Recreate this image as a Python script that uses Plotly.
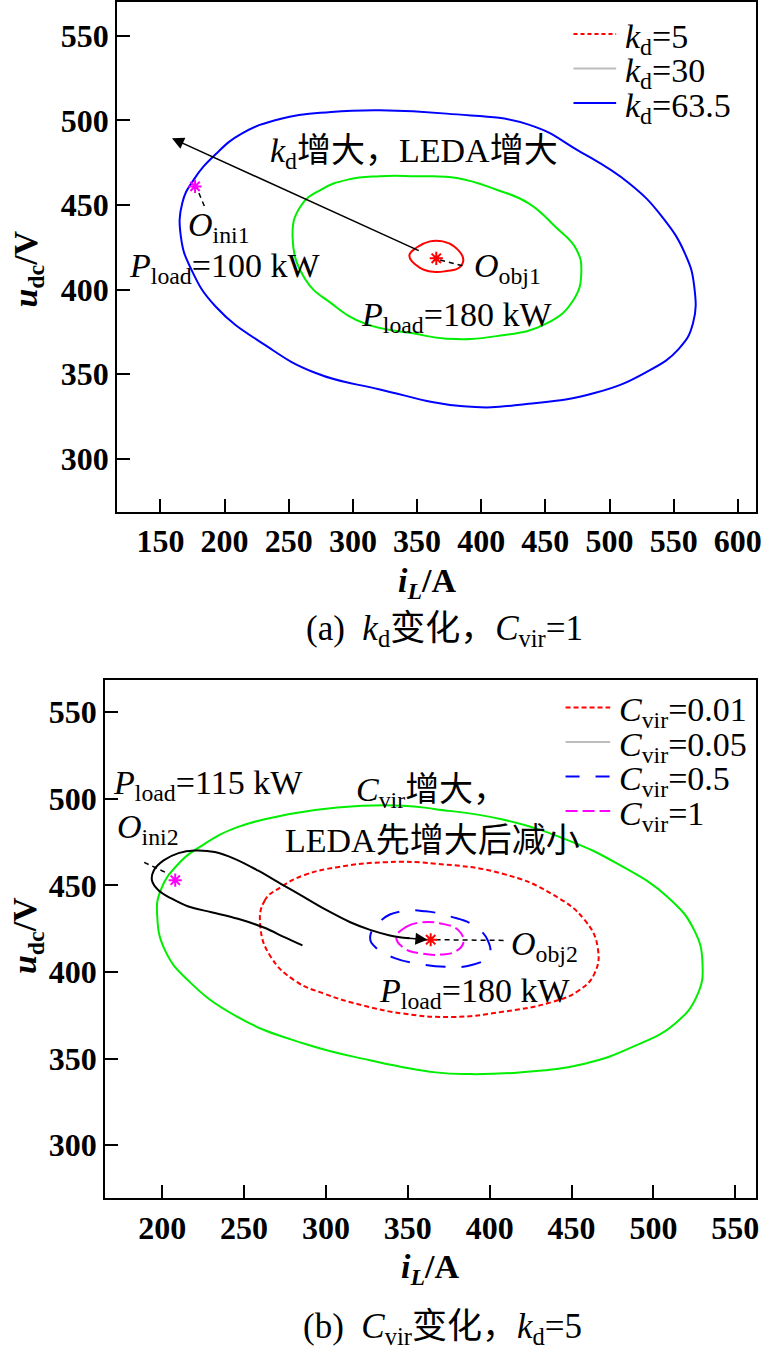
import plotly.graph_objects as go

FONT = "Liberation Serif, Times New Roman, Noto Sans CJK SC, serif"
FS = 34

# ---------- (a) k_d varies, C_vir = 1 ----------
kd63_x = [166, 167, 176, 193, 213, 244, 283, 321, 373, 437, 476, 515, 541, 559, 566, 565,
          554, 528, 489, 437, 386, 321, 270, 232, 193, 174, 166]
kd63_y = [431, 451, 465, 480, 492, 501, 505, 506, 504, 497.5, 482, 463, 443, 421, 402, 380,
          365, 351, 339, 332.5, 331, 341, 351, 367, 390, 412, 431]

kd30_x = [253, 259, 275, 296, 321, 348, 381, 412, 437, 458, 474, 478, 472, 451, 412, 373,
          348, 309, 283, 263, 253]
kd30_y = [431, 449, 459, 465, 467, 467, 466, 459, 451, 437, 424, 410, 394, 380, 372.5, 371,
          374, 380, 392, 406, 431]

kd5_x = [344, 350, 360, 370, 379, 386, 383, 373, 363, 352, 344]
kd5_y = [420, 425, 428.5, 428.5, 425.5, 418, 413, 411, 410.5, 413, 420]

obj1 = (365, 418.5)
ini1 = (177, 461)
obj1_link_x, obj1_link_y = [368, 386], [417.5, 414]
ini1_link_x, ini1_link_y = [180, 185], [457, 448]
arrow_a_from, arrow_a_to = (352.5, 422.6), (159, 489.4)

leg_a_names = ["<i>k</i><sub>d</sub>=5", "<i>k</i><sub>d</sub>=30", "<i>k</i><sub>d</sub>=63.5"]
leg_a_colors = ["red", "#bdbdbd", "blue"]
leg_a_dashes = ["4px,3px", "solid", "solid"]

# ---------- (b) C_vir varies, k_d = 5 ----------
c005_x = [197, 199, 210, 226, 246, 277, 307, 347, 367, 408, 448, 478, 509, 525, 530, 527,
          513, 488, 458, 418, 388, 367, 327, 287, 246, 216, 202, 197]
c005_y = [432, 447, 462.5, 474, 483.6, 491, 495, 496, 494, 488, 476, 462.5, 443, 424, 405, 387,
          370, 357, 347, 342, 341, 342, 349, 358.5, 374, 395, 412, 432]

c001_x = [260, 262.5, 272.5, 287, 307, 337, 367, 408, 438, 458, 466, 464, 454, 438, 408, 377.5,
          347, 323, 299, 281, 266.5, 260]
c001_y = [426, 441, 449, 456, 460.5, 463.4, 462.5, 456.7, 445, 430, 414, 399, 389, 382.6, 377, 374,
          376, 380.6, 387.4, 395, 408.5, 426]

c05_x = [327, 334, 346, 361, 376, 390, 399, 399.5, 389, 373, 355, 342, 331, 327]
c05_y = [420, 430, 435, 435, 432, 427, 418, 409.5, 404, 403, 405, 408, 413.6, 420]

c1_x = [343, 349, 358, 370, 381, 384, 379.5, 370, 358, 348, 343]
c1_y = [420, 426, 428.6, 428, 424, 417, 412, 410, 410.7, 413.6, 420]

traj_x = [285.7, 274.6, 262.5, 246.3, 230.1, 216, 205.9, 197.9, 193.8, 194.9, 200.9, 210, 220.1,
          232.2, 244.3, 258.4, 272.5, 286.7, 300.8, 314.9, 327, 339.1, 351]
traj_y = [415.3, 420.1, 425.5, 430.7, 434.5, 437.8, 442.3, 447, 452.8, 458.6, 464.4, 468.6, 470.1,
          469.2, 465.3, 458.6, 450.9, 443.2, 435.5, 428.7, 424.3, 421.1, 419.4]

obj2 = (364, 418.6)
ini2 = (208, 453)
obj2_link_x, obj2_link_y = [367, 409], [418.6, 418.2]
ini2_link_x, ini2_link_y = [189, 204], [463.3, 456.6]
arrow_b_from, arrow_b_to = (348, 419.7), (362, 418.6)

leg_b_names = ["<i>C</i><sub>vir</sub>=0.01", "<i>C</i><sub>vir</sub>=0.05",
               "<i>C</i><sub>vir</sub>=0.5", "<i>C</i><sub>vir</sub>=1"]
leg_b_colors = ["red", "#bdbdbd", "blue", "magenta"]
leg_b_dashes = ["5px,3px", "solid", "14px,16px", "12px,5px"]

ticks_a_x = [150, 200, 250, 300, 350, 400, 450, 500, 550, 600]
ticks_b_x = [200, 250, 300, 350, 400, 450, 500, 550]
ticks_y = [300, 350, 400, 450, 500, 550]

W, H = 768, 1350


def curve(x, y, color, xa, ya, dash="solid", width=2, smooth=1.3):
    return go.Scatter(x=x, y=y, mode="lines", xaxis=xa, yaxis=ya, showlegend=False,
                      hoverinfo="skip",
                      line=dict(color=color, width=width, dash=dash, shape="spline",
                                smoothing=smooth))


def star(pt, color, xa, ya):
    return go.Scatter(x=[pt[0]], y=[pt[1]], mode="markers", xaxis=xa, yaxis=ya, showlegend=False,
                      marker=dict(symbol="asterisk", size=11, color=color,
                                  line=dict(color=color, width=2)))


fig = go.Figure()

# (a)
fig.add_trace(curve(kd63_x, kd63_y, "blue", "x", "y"))
fig.add_trace(curve(kd30_x, kd30_y, "#00ee00", "x", "y"))
fig.add_trace(curve(kd5_x, kd5_y, "red", "x", "y"))
fig.add_trace(curve(obj1_link_x, obj1_link_y, "black", "x", "y", dash="5px,4px", width=1.5))
fig.add_trace(curve(ini1_link_x, ini1_link_y, "black", "x", "y", dash="5px,4px", width=1.5))
fig.add_trace(star(obj1, "red", "x", "y"))
fig.add_trace(star(ini1, "magenta", "x", "y"))

# (b)
fig.add_trace(curve(c005_x, c005_y, "#00ee00", "x2", "y2"))
fig.add_trace(curve(c001_x, c001_y, "red", "x2", "y2", dash="5px,3px"))
fig.add_trace(curve(c05_x, c05_y, "blue", "x2", "y2", dash="20px,16px"))
fig.add_trace(curve(c1_x, c1_y, "magenta", "x2", "y2", dash="12px,5px"))
fig.add_trace(curve(traj_x, traj_y, "black", "x2", "y2", smooth=1.0))
fig.add_trace(curve(obj2_link_x, obj2_link_y, "black", "x2", "y2", dash="5px,4px", width=1.5))
fig.add_trace(curve(ini2_link_x, ini2_link_y, "black", "x2", "y2", dash="5px,4px", width=1.5))
fig.add_trace(star(obj2, "red", "x2", "y2"))
fig.add_trace(star(ini2, "magenta", "x2", "y2"))

axis_common = dict(showgrid=False, zeroline=False, showline=True, linecolor="black", linewidth=2,
                   mirror=True, ticks="inside", ticklen=13, tickwidth=2, tickcolor="black",
                   tickfont=dict(family=FONT, size=32, color="black", weight="bold"))

fig.update_layout(
    width=W, height=H, margin=dict(l=0, r=0, t=0, b=0), showlegend=False,
    plot_bgcolor="white", paper_bgcolor="white",
    font=dict(family=FONT, size=FS, color="black"),
    xaxis=dict(domain=[0.1536, 0.9922], range=[116.2, 614.2], tickvals=ticks_a_x, anchor="y",
               **axis_common),
    yaxis=dict(domain=[0.6215, 0.9993], range=[268.8, 570], tickvals=ticks_y, anchor="x",
               **axis_common),
    xaxis2=dict(domain=[0.138, 0.9922], range=[165.2, 562.7], tickvals=ticks_b_x, anchor="y2",
                **axis_common),
    yaxis2=dict(domain=[0.1126, 0.4963], range=[269.4, 568.3], tickvals=ticks_y, anchor="x2",
                **axis_common),
)


def note(text, x, y, xref, yref, xanchor="left", angle=0, bold=False, size=FS):
    fig.add_annotation(text=text, x=x, y=y, xref=xref, yref=yref, xanchor=xanchor,
                       yanchor="middle", showarrow=False, textangle=angle,
                       font=dict(family=FONT, size=size, color="black",
                                 weight="bold" if bold else "normal"))


def arrow(src, dst, xref, yref):
    fig.add_annotation(x=dst[0], y=dst[1], ax=src[0], ay=src[1], xref=xref, yref=yref,
                       axref=xref, ayref=yref, text="", showarrow=True, arrowhead=2,
                       arrowsize=1.6, arrowwidth=1.5, arrowcolor="black")


def legend_box(names, colors, dashes, x0, x1, y_first, step):
    # hand-drawn legend (pixel layout of the figure)
    for i, (nm, col, ds) in enumerate(zip(names, colors, dashes)):
        yy = 1 - (y_first + i * step) / H
        fig.add_shape(type="line", xref="paper", yref="paper", x0=x0 / W, x1=x1 / W, y0=yy, y1=yy,
                      line=dict(color=col, width=2, dash=ds))
        note(nm, (x1 + 7) / W, 1 - (y_first + i * step + 5) / H, "paper", "paper")


# (a) texts
arrow(arrow_a_from, arrow_a_to, "x", "y")
note("<i>k</i><sub>d</sub>增大，LEDA增大", 234, 481, "x", "y")
note("<i>O</i><sub>ini1</sub>", 170, 437, "x", "y")
note("<i>P</i><sub>load</sub>=100 kW", 124, 413, "x", "y")
note("<i>P</i><sub>load</sub>=180 kW", 305, 384, "x", "y")
note("<i>O</i><sub>obj1</sub>", 393, 413, "x", "y")
note("<i>i</i><sub><i>L</i></sub>/A", 0.56, 1 - 582 / H, "paper", "paper", xanchor="center", bold=True)
note("(a)  <i>k</i><sub>d</sub>变化，<i>C</i><sub>vir</sub>=1", 0.583, 1 - 630 / H, "paper", "paper",
     xanchor="center", size=35)
note("<i>u</i><sub>dc</sub>/V", 28 / W, 1 - 268 / H, "paper", "paper", xanchor="center", angle=-90,
     bold=True)
legend_box(leg_a_names, leg_a_colors, leg_a_dashes, 578, 621, 33, 34.5)

# (b) texts
arrow(arrow_b_from, arrow_b_to, "x2", "y2")
note("<i>P</i><sub>load</sub>=115 kW", 169, 508, "x2", "y2")
note("<i>O</i><sub>ini2</sub>", 171, 482.5, "x2", "y2")
note("<i>C</i><sub>vir</sub>增大，", 317, 504, "x2", "y2")
note("LEDA先增大后减小", 274, 476, "x2", "y2")
note("<i>P</i><sub>load</sub>=180 kW", 331, 388, "x2", "y2")
note("<i>O</i><sub>obj2</sub>", 412, 415, "x2", "y2")
note("<i>i</i><sub><i>L</i></sub>/A", 0.564, 1 - 1269 / H, "paper", "paper", xanchor="center",
     bold=True)
note("(b)  <i>C</i><sub>vir</sub>变化，<i>k</i><sub>d</sub>=5", 0.581, 1 - 1328 / H, "paper", "paper",
     xanchor="center", size=35)
note("<i>u</i><sub>dc</sub>/V", 28 / W, 1 - 935 / H, "paper", "paper", xanchor="center", angle=-90,
     bold=True)
legend_box(leg_b_names, leg_b_colors, leg_b_dashes, 570, 615, 707, 34.5)

fig.write_html("out.html", config={"displayModeBar": False},
               post_script="document.body.style.margin='0px';")
